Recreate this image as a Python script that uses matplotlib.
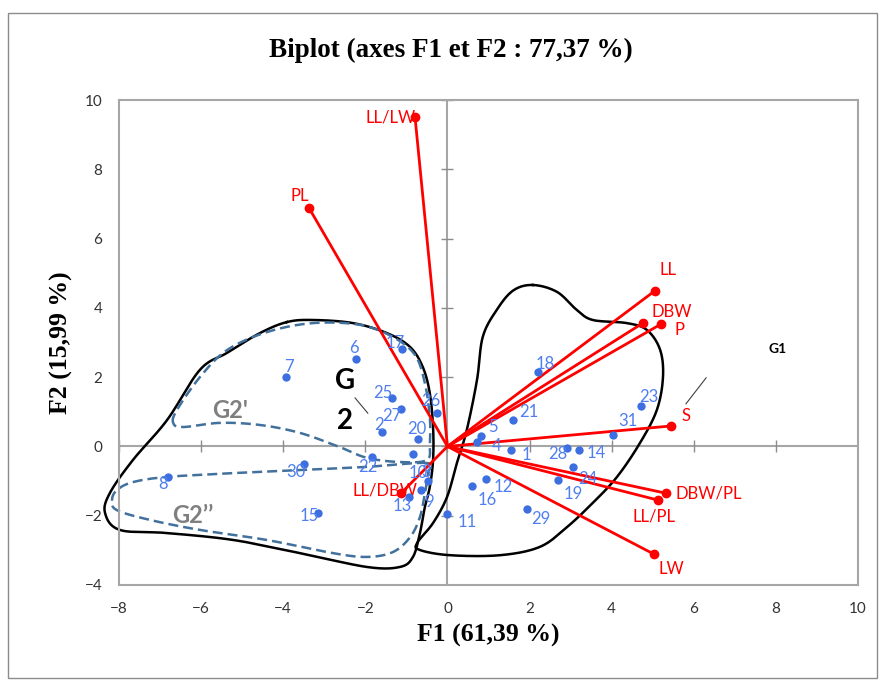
import numpy as np
import matplotlib
matplotlib.use('Agg')
from matplotlib import pyplot as plt
from matplotlib.patches import Rectangle

# observations (F1, F2)
obs_labels = [str(i) for i in range(1, 32)]
obs_f1 = [1.55, -1.60, -0.84, 0.72, 0.82, -2.23, -3.93, -6.81, -0.65, -0.47,
          -0.01, 0.94, -0.94, 3.20, -3.15, 0.60, -1.11, 2.21, 2.69, -0.72,
          1.60, -1.84, 4.71, 3.06, -1.35, -0.26, -1.13, 2.91, 1.94, -3.49, 4.03]
obs_f2 = [-0.10, 0.42, -0.22, 0.13, 0.30, 2.53, 2.01, -0.88, -1.26, -1.00,
          -1.95, -0.94, -1.45, -0.10, -1.92, -1.14, 2.82, 2.14, -0.97, 0.21,
          0.76, -0.31, 1.17, -0.60, 1.40, 0.96, 1.08, -0.05, -1.81, -0.51, 0.33]

# variables (loadings, scaled)
var_labels = ['LL/LW', 'PL', 'LL', 'DBW', 'P', 'S', 'DBW/PL', 'LL/PL', 'LW', 'LL/DBW']
var_f1 = [-0.79, -3.37, 5.05, 4.76, 5.20, 5.44, 5.32, 5.13, 5.03, -1.13]
var_f2 = [9.51, 6.88, 4.49, 3.56, 3.53, 0.59, -1.35, -1.55, -3.11, -1.35]

# group outlines (data units, hand traced)
g1_x = [2.08, 2.67, 3.15, 3.54, 4.37, 4.86, 5.18, 5.25, 5.10, 4.69, 4.13, 3.54, 2.91,
        2.25, 1.28, 0.06, -0.67, -0.74, -0.35, -0.01, 0.23, 0.47, 0.72, 0.86, 1.20, 1.60]
g1_y = [4.66, 4.46, 3.94, 3.65, 3.56, 3.36, 2.79, 2.00, 1.05, 0.10, -0.88, -1.63, -2.33,
        -2.90, -3.14, -3.14, -2.99, -2.79, -2.21, -1.46, -0.48, 0.47, 1.92, 3.16, 3.94, 4.50]
g2_x = [-3.91, -3.28, -2.30, -1.47, -0.91, -0.60, -0.43, -0.35, -0.35, -0.43, -0.55, -0.67,
        -0.84, -1.16, -1.96, -3.59, -5.22, -6.83, -7.98, -8.34, -8.22, -7.66, -6.83, -6.03,
        -5.37, -4.57]
g2_y = [3.59, 3.65, 3.56, 3.27, 2.87, 2.29, 1.54, 0.56, -0.39, -1.17, -1.75, -2.50,
        -3.19, -3.48, -3.48, -3.08, -2.70, -2.50, -2.41, -1.92, -1.34, -0.39, 0.76, 2.21,
        2.70, 3.27]
g2a_x = [-6.68, -6.59, -6.03, -5.37, -4.40, -3.28, -2.13, -1.33, -0.79, -0.55, -0.43, -0.43,
         -0.50, -1.16, -1.96, -2.62, -3.59, -4.57, -5.54, -6.44]
g2a_y = [0.68, 1.05, 2.00, 2.78, 3.30, 3.56, 3.51, 3.16, 2.64, 1.83, 0.85, 0.10,
         -0.39, -0.45, -0.33, -0.02, 0.39, 0.62, 0.68, 0.56]
g2b_x = [-0.50, -1.96, -3.59, -5.22, -6.83, -7.66, -8.05, -8.17, -8.05, -7.25, -6.03, -4.40,
         -2.79, -1.96, -1.33, -0.91, -0.67, -0.55, -0.47]
g2b_y = [-0.48, -0.59, -0.68, -0.77, -0.88, -1.03, -1.26, -1.55, -1.84, -2.12, -2.41, -2.70,
         -3.08, -3.19, -3.05, -2.62, -2.04, -1.35, -0.77]

xticks = list(range(-8, 11, 2))
yticks = list(range(-4, 11, 2))

# label offsets in pixels (dx right, dy down)
obs_off = {'1': (15, 5), '2': (-3, -7), '3': (13, 18), '4': (20, 4), '5': (12, -9),
           '6': (-2, -11), '7': (3, -10), '8': (-5, 7), '9': (8, 12), '10': (-10, -8),
           '11': (20, 8), '12': (17, 8), '13': (-7, 9), '14': (17, 3), '15': (-9, 3),
           '16': (15, 14), '17': (-7, -6), '18': (7, -8), '19': (15, 14), '20': (-1, -10),
           '21': (16, -8), '22': (-4, 10), '23': (8, -9), '24': (15, 12), '25': (-9, -5),
           '26': (-6, -12), '27': (-9, 7), '28': (-9, 6), '29': (14, 10), '30': (-8, 8),
           '31': (15, -14)}
var_off = {'LL/LW': (-24, 1), 'PL': (-9, -12), 'LL': (13, -21), 'DBW': (29, -11),
           'P': (19, 6), 'S': (15, -10), 'DBW/PL': (43, 0), 'LL/PL': (-4, 16),
           'LW': (17, 15), 'LL/DBW': (-16, -3)}


def smooth_closed(xs, ys, n=20):
    p = np.column_stack([xs, ys])
    m = len(p)
    out = []
    for i in range(m):
        p0, p1, p2, p3 = p[i - 1], p[i], p[(i + 1) % m], p[(i + 2) % m]
        for t in np.linspace(0, 1, n, endpoint=False):
            t2, t3 = t * t, t * t * t
            out.append(0.5 * ((2 * p1) + (-p0 + p2) * t + (2 * p0 - 5 * p1 + 4 * p2 - p3) * t2
                              + (-p0 + 3 * p1 - 3 * p2 + p3) * t3))
    out.append(out[0])
    out = np.array(out)
    return out[:, 0], out[:, 1]


lab_font = ['Lato', 'DejaVu Sans']
fig = plt.figure(figsize=(8.85, 6.86), dpi=100)
fig.patches.append(Rectangle((8 / 885, 1 - 678 / 686), 869 / 885, 665 / 686,
                             transform=fig.transFigure, fill=False, edgecolor='#8c8c8c', lw=1))
ax = fig.add_axes([119 / 885, 1 - 585 / 686, 739 / 885, 485 / 686])
ax.set_xlim(-8, 10)
ax.set_ylim(-4, 10)

for s in ax.spines.values():
    s.set_color('#a6a6a6')
    s.set_linewidth(1.5)
ax.axhline(0, color='#a6a6a6', lw=1.5, zorder=1)
ax.axvline(0, color='#a6a6a6', lw=1.5, zorder=1)
ax.plot(xticks, [0] * len(xticks), ls='none', marker='|', ms=9, mew=1, color='#8c8c8c', zorder=1)
ax.plot([0] * len(yticks), yticks, ls='none', marker='_', ms=9, mew=1, color='#8c8c8c', zorder=1)

ax.set_xticks(xticks)
ax.set_yticks(yticks)
ax.tick_params(length=0, pad=12, labelsize=11, labelcolor='#333333')
for t in ax.get_xticklabels() + ax.get_yticklabels():
    t.set_family(lab_font)

# outlines
for gx, gy, style in [(g1_x, g1_y, dict(color='black', lw=1.8, ls='-')),
                      (g2_x, g2_y, dict(color='black', lw=1.8, ls='-')),
                      (g2a_x, g2a_y, dict(color='#41719c', lw=1.8, ls=(0, (4, 2)))),
                      (g2b_x, g2b_y, dict(color='#41719c', lw=1.8, ls=(0, (4, 2))))]:
    sx, sy = smooth_closed(gx, gy)
    ax.plot(sx, sy, clip_on=False, zorder=2, **style)

# variable vectors
for lab, x, y in zip(var_labels, var_f1, var_f2):
    ax.plot([0, x], [0, y], color='red', lw=2, zorder=3)
    ax.plot(x, y, 'o', color='red', ms=6, zorder=4)
    dx, dy = var_off[lab]
    ax.annotate(lab, (x, y), xytext=(dx, -dy), textcoords='offset pixels',
                ha='center', va='center', color='red', fontsize=12, family=lab_font, zorder=5)

# observations
ax.scatter(obs_f1, obs_f2, s=36, color='#3d6fe0', zorder=5, linewidths=0)
for lab, x, y in zip(obs_labels, obs_f1, obs_f2):
    dx, dy = obs_off[lab]
    ax.annotate(lab, (x, y), xytext=(dx, -dy), textcoords='offset pixels',
                ha='center', va='center', color='#4f7ef0', fontsize=12, family=lab_font, zorder=6)

# group labels
ax.text(-2.50, 1.88, 'G', fontsize=20, fontweight='bold', ha='center', va='center', family=lab_font)
ax.text(-2.50, 0.73, '2', fontsize=20, fontweight='bold', ha='center', va='center', family=lab_font)
ax.plot([-2.25, -1.94], [1.40, 0.96], color='#404040', lw=0.8)
ax.text(8.05, 2.82, 'G1', fontsize=10, fontweight='bold', ha='center', va='center', family=lab_font)
ax.plot([5.81, 6.30], [1.23, 1.98], color='#404040', lw=0.8)
ax.text(-5.30, 1.05, "G2'", fontsize=17, fontweight='bold', color='#7f7f7f',
        ha='center', va='center', family=lab_font)
ax.text(-6.20, -1.98, 'G2\u2019\u2019', fontsize=17, fontweight='bold', color='#7f7f7f',
        ha='center', va='center', family=lab_font)

fig.text(0.51, 1 - 50 / 686, 'Biplot (axes F1 et F2 : 77,37 %)', ha='center', va='center',
         fontsize=19.5, fontweight='bold', family='Liberation Serif')
ax.set_xlabel('F1 (61,39 %)', fontsize=18.5, fontweight='bold', family='Liberation Serif', labelpad=6)
ax.set_ylabel('F2 (15,99 %)', fontsize=18.5, fontweight='bold', family='Liberation Serif', labelpad=8)

fig.savefig('out.png', dpi=100)
